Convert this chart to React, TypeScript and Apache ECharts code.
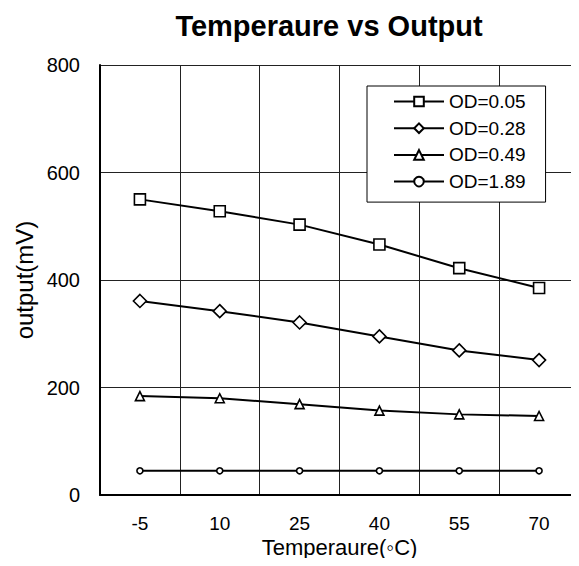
import React, { useEffect, useRef } from "react";
import * as echarts from "echarts";

const categories = ["-5", "10", "25", "40", "55", "70"];
const od005 = [550, 528, 503, 466, 422, 385];
const od028 = [361, 342, 321, 295, 269, 251];
const od049 = [184, 180, 169, 157, 150, 147];
const od189 = [45, 45, 45, 45, 45, 45];
const seriesNames = ["OD=0.05", "OD=0.28", "OD=0.49", "OD=1.89"];
const yTicks = [0, 200, 400, 600, 800];

const FONT = "Liberation Sans, Arial, sans-serif";

export default function App() {
  const ref = useRef<HTMLDivElement>(null);
  useEffect(() => {
    if (!ref.current) return;
    const chart = echarts.init(ref.current, null, { renderer: "svg" });
    const mk = (name: string, data: number[], symbol: string, size: number) => ({
      name,
      type: "line",
      data,
      symbol,
      symbolSize: size,
      showAllSymbol: true,
      lineStyle: { color: "#000", width: 2 },
      itemStyle: { color: "#fff", borderColor: "#000", borderWidth: 1.6 },
      emphasis: { disabled: true },
    });
    chart.setOption({
      animation: false,
      backgroundColor: "#fff",
      title: {
        text: "Temperaure vs Output",
        left: 324,
        textAlign: "center",
        top: 6,
        textStyle: { fontFamily: FONT, fontSize: 29, fontWeight: "bold", color: "#000" },
      },
      grid: { left: 100, top: 65, width: 480, height: 430, containLabel: false },
      legend: {
        orient: "vertical",
        left: 367,
        top: 86,
        padding: [6, 20, 11, 26],
        backgroundColor: "#fff",
        borderColor: "#000",
        borderWidth: 1,
        borderRadius: 0,
        itemWidth: 50,
        itemHeight: 12,
        itemGap: 7.7,
        data: seriesNames,
        textStyle: { fontFamily: FONT, fontSize: 19, color: "#000", lineHeight: 19 },
      },
      xAxis: {
        type: "category",
        data: categories,
        boundaryGap: true,
        name: "Temperaure(◦C)",
        nameLocation: "middle",
        nameGap: 42,
        nameMoveOverlap: false,
        nameTextStyle: { fontFamily: FONT, fontSize: 22, color: "#000", lineHeight: 20 },
        axisLine: { lineStyle: { color: "#000", width: 2 } },
        axisTick: { show: false },
        axisLabel: { fontFamily: FONT, fontSize: 19, color: "#000", margin: 19, lineHeight: 18 },
        splitLine: { show: true, lineStyle: { color: "#222", width: 1 } },
      },
      yAxis: {
        type: "value",
        min: yTicks[0],
        max: yTicks[yTicks.length - 1],
        interval: 200,
        name: "output(mV)",
        nameLocation: "middle",
        nameGap: 64,
        nameRotate: 90,
        nameMoveOverlap: false,
        nameTextStyle: { fontFamily: FONT, fontSize: 24, color: "#000" },
        axisLine: { show: true, lineStyle: { color: "#000", width: 2 } },
        axisTick: { show: false },
        axisLabel: { fontFamily: FONT, fontSize: 20, color: "#000", margin: 20 },
        splitLine: { show: true, lineStyle: { color: "#222", width: 1 } },
      },
      series: [
        mk(seriesNames[0], od005, "rect", 11),
        mk(seriesNames[1], od028, "diamond", 13),
        mk(seriesNames[2], od049, "triangle", 9),
        mk(seriesNames[3], od189, "circle", 6),
      ],
    });
    return () => chart.dispose();
  }, []);
  return <div ref={ref} style={{ width: 579, height: 566, margin: -8 }} />;
}
